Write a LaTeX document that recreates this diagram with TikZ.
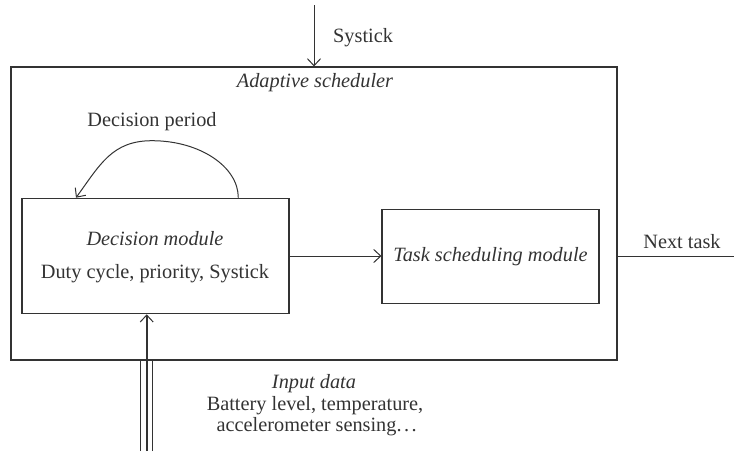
\documentclass[tikz,border=0pt]{standalone}
\usepackage{fontspec}
\setmainfont{Liberation Serif}
\usetikzlibrary{arrows.meta}
\definecolor{ink}{HTML}{333333}
\begin{document}
\begin{tikzpicture}[x=1pt,y=-1pt,
  box/.style={draw=ink, line width=1.1pt, inner sep=0pt},
  lbl/.style={text=ink, font=\fontsize{20.3}{24}\selectfont, anchor=base, inner sep=0pt},
  ilbl/.style={lbl, font=\fontsize{20.3}{24}\selectfont\itshape},
  conn/.style={draw=ink, line width=1pt},
  arr/.style={conn, -{Straight Barb[length=7pt,width=13pt,line width=1pt]}}
]
\useasboundingbox (0,0) rectangle (734,451);
% boxes
\node[box, minimum width=606pt, minimum height=293pt] (outer) at (314,213.5) {};
\node[box, minimum width=267pt, minimum height=115.5pt] (dec) at (155.5,256) {};
\node[box, minimum width=217pt, minimum height=94pt] (task) at (490.5,256.3) {};
% labels
\node[lbl, anchor=base west] (sysl) at (333,42) {Systick};
\node[ilbl] (adl) at (315,87) {Adaptive scheduler};
\node[lbl] (dpl) at (152,126) {Decision period};
\node[ilbl] (dml) at (155,245.7) {Decision module};
\node[lbl] (dcl) at (155,278.3) {Duty cycle, priority, Systick};
\node[ilbl] (tsl) at (490.5,261.7) {Task scheduling module};
\node[lbl] (ntl) at (682,248) {Next task};
\node[ilbl] (idl) at (314,388) {Input data};
\node[lbl] (bl1) at (315,410.7) {Battery level, temperature,};
\node[lbl] (bl2) at (316.7,431.7) {accelerometer sensing.\kern2.5pt.\kern2.5pt.};
% coordinates
\coordinate (systop) at (314,5);
\coordinate (ntend) at (734,256.5);
\coordinate (arcS) at (238.3,0);
\coordinate (arcE) at (76,0);
\coordinate (arcTop) at (152,140.7);
\coordinate (inM) at (146.7,451);
\coordinate (inL) at (140.7,451);
\coordinate (inR) at (152.7,451);
% connectors
\draw[arr] (systop) -- (systop |- outer.north);
\draw[arr] (dec.east) -- (dec.east -| task.west);
\draw[conn] (ntend -| outer.east) -- (ntend);
\draw[arr] (arcS |- dec.north) .. controls (238.3,166.5) and (199.5,140.7) .. (arcTop)
  .. controls (112,140.7) and (100,164.7) .. (arcE |- dec.north);
\draw[conn, line width=0.9pt] (inL) -- (inL |- outer.south);
\draw[conn, line width=0.9pt] (inR) -- (inR |- outer.south);
\draw[conn, line width=2.3pt, -{Straight Barb[length=7pt,width=13pt,line width=1pt]}] (inM) -- (inM |- dec.south);
\end{tikzpicture}
\end{document}
